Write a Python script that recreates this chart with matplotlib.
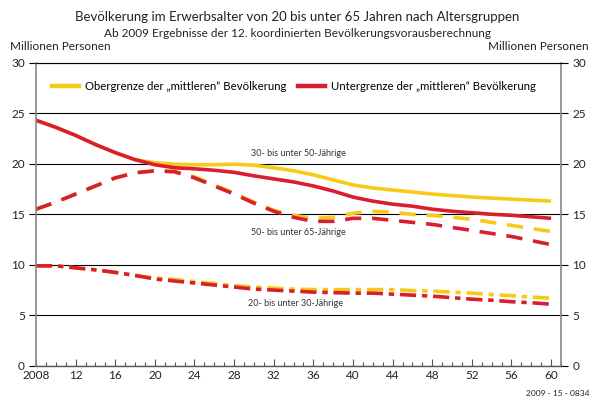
# Bevölkerung im Erwerbsalter nach Altersgruppen
import matplotlib
matplotlib.use("Agg")
import matplotlib.pyplot as plt
from matplotlib.ticker import MultipleLocator

plt.rcParams['font.family'] = ['Lato', 'DejaVu Sans']

# data (Millionen Personen)
years = list(range(2008, 2061, 2))

ober_30_50 = [24.3, 23.6, 22.8, 21.9, 21.1, 20.4, 20.1, 19.95, 19.9, 19.9, 19.95, 19.85, 19.6, 19.3,
              18.9, 18.4, 17.9, 17.6, 17.4, 17.2, 17.0, 16.85, 16.7, 16.6, 16.5, 16.4, 16.3]
unter_30_50 = [24.3, 23.6, 22.8, 21.9, 21.1, 20.4, 19.9, 19.6, 19.5, 19.35, 19.15, 18.8, 18.5, 18.2,
               17.8, 17.3, 16.7, 16.3, 16.0, 15.8, 15.5, 15.3, 15.15, 15.0, 14.9, 14.75, 14.6]
ober_50_65 = [15.5, 16.2, 17.0, 17.8, 18.6, 19.1, 19.3, 19.25, 18.7, 17.9, 17.1, 16.2, 15.4, 14.9,
              14.6, 14.7, 15.1, 15.3, 15.2, 15.0, 14.9, 14.7, 14.5, 14.2, 13.9, 13.6, 13.3]
unter_50_65 = [15.5, 16.2, 17.0, 17.8, 18.6, 19.1, 19.3, 19.2, 18.6, 17.8, 17.0, 16.1, 15.3, 14.7,
               14.3, 14.3, 14.6, 14.6, 14.4, 14.2, 14.0, 13.7, 13.4, 13.1, 12.8, 12.4, 12.0]
ober_20_30 = [9.9, 9.9, 9.7, 9.5, 9.25, 8.95, 8.7, 8.55, 8.35, 8.15, 7.95, 7.8, 7.7, 7.6,
              7.55, 7.55, 7.55, 7.55, 7.55, 7.45, 7.4, 7.3, 7.2, 7.05, 6.95, 6.8, 6.7]
unter_20_30 = [9.9, 9.9, 9.7, 9.5, 9.25, 8.95, 8.6, 8.4, 8.2, 8.0, 7.8, 7.6, 7.5, 7.4,
               7.3, 7.25, 7.2, 7.2, 7.1, 7.0, 6.9, 6.75, 6.6, 6.5, 6.35, 6.25, 6.1]

gelb = '#F7CB15'
rot = '#D81E2F'
lw = 2.6
dash = (0, (4.5, 3))
dashdot = (0, (4.5, 1.6, 1.5, 1.6))

fig = plt.figure(figsize=(5.95, 4.03), dpi=100)
ax = fig.add_axes([0.0605, 0.092, 0.8824, 0.7526])

# yellow below red
ax.plot(years, ober_30_50, color=gelb, lw=lw, solid_capstyle='butt')
ax.plot(years, ober_50_65, color=gelb, lw=lw, linestyle=dash)
ax.plot(years, ober_20_30, color=gelb, lw=lw, linestyle=dashdot)
ax.plot(years, unter_30_50, color=rot, lw=lw, solid_capstyle='butt')
ax.plot(years, unter_50_65, color=rot, lw=lw, linestyle=dash)
ax.plot(years, unter_20_30, color=rot, lw=lw, linestyle=dashdot)

ax.set_xlim(2008, 2061)
ax.set_ylim(0, 30)

ax.yaxis.set_major_locator(MultipleLocator(5))
ax.xaxis.set_minor_locator(MultipleLocator(1))
ax.set_xticks(range(2008, 2061, 4))
ax.set_xticklabels(['2008'] + [str(y)[2:] for y in range(2012, 2061, 4)])

ax.grid(axis='y', color='black', lw=0.8)
ax.set_axisbelow(True)
ax.tick_params(axis='y', which='both', direction='out', length=5, width=0.8, color='black',
               left=True, right=True, labelleft=True, labelright=True, labelsize=8.5,
               labelcolor='#222222', pad=3)
ax.tick_params(axis='x', which='major', direction='in', length=5, width=0.8, color='#555555',
               labelsize=8.5, labelcolor='#222222', pad=3)
ax.tick_params(axis='x', which='minor', direction='in', length=3, width=0.8, color='#555555')

for s in ['left', 'right']:
    ax.spines[s].set_color('#888888')
    ax.spines[s].set_linewidth(1.2)
ax.spines['bottom'].set_color('#555555')
ax.spines['bottom'].set_linewidth(1.0)
ax.spines['top'].set_color('black')
ax.spines['top'].set_linewidth(0.8)

# legend
h1, = ax.plot([], [], color=gelb, lw=3.2)
h2, = ax.plot([], [], color=rot, lw=3.2)
ax.legend([h1, h2],
          ['Obergrenze der \u201emittleren\u201c Bevölkerung',
           'Untergrenze der \u201emittleren\u201c Bevölkerung'],
          loc='upper left', bbox_to_anchor=(0.03, 0.94), ncol=2, frameon=False,
          fontsize=8.2, handlelength=2.4, handletextpad=0.5, columnspacing=1.0,
          borderpad=0, borderaxespad=0)

# group labels
ax.text(2034.5, 21.0, '30- bis unter 50-Jährige', fontsize=6.5, ha='center', va='center', color='#333333')
ax.text(2034.5, 13.2, '50- bis unter 65-Jährige', fontsize=6.5, ha='center', va='center', color='#333333')
ax.text(2034.2, 6.2, '20- bis unter 30-Jährige', fontsize=6.5, ha='center', va='center', color='#333333')

fig.text(0.5, 0.957, 'Bevölkerung im Erwerbsalter von 20 bis unter 65 Jahren nach Altersgruppen',
         ha='center', va='center', fontsize=9.5, color='#222222')
fig.text(0.5, 0.918, 'Ab 2009 Ergebnisse der 12. koordinierten Bevölkerungsvorausberechnung',
         ha='center', va='center', fontsize=8.5, color='#222222')
fig.text(0.017, 0.885, 'Millionen Personen', ha='left', va='center', fontsize=8.5, color='#222222')
fig.text(0.99, 0.885, 'Millionen Personen', ha='right', va='center', fontsize=8.5, color='#222222')
fig.text(0.99, 0.015, '2009 - 15 - 0834', ha='right', va='bottom', fontsize=6, color='#222222')

fig.savefig('out.png', dpi=100)
